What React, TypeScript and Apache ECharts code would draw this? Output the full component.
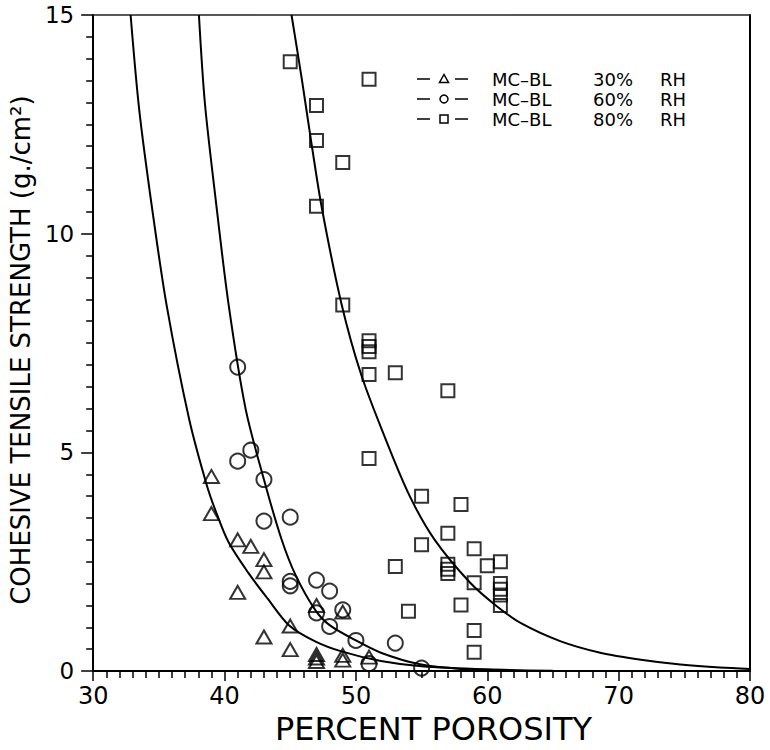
import { useEffect, useRef } from "react";
import * as echarts from "echarts";

// Measured data: [percent porosity, cohesive tensile strength]
const rh30: [number, number][] = [
  [39, 4.45], [39, 3.6], [41, 3.0], [41, 1.8], [42, 2.85], [43, 2.55], [43, 2.27],
  [43, 0.78], [45, 1.03], [45, 0.49], [47, 1.5], [47, 0.38], [47, 0.3], [47, 0.22],
  [49, 1.35], [49, 0.36], [49, 0.25], [51, 0.32],
];
const rh60: [number, number][] = [
  [41, 6.95], [41, 4.8], [42, 5.05], [43, 4.38], [43, 3.43], [45, 3.52], [45, 2.05],
  [45, 1.95], [47, 2.08], [47, 1.33], [48, 1.83], [48, 1.02], [49, 1.4], [50, 0.7],
  [51, 0.17], [53, 0.64], [55, 0.07],
];
const rh80: [number, number][] = [
  [45, 13.93], [51, 13.53], [47, 12.93], [47, 12.13], [49, 11.63], [47, 10.63], [49, 8.37],
  [51, 7.55], [51, 7.42], [51, 7.3], [51, 6.78], [53, 6.82], [57, 6.41], [51, 4.86],
  [55, 4.0], [58, 3.81], [57, 3.15], [55, 2.89], [59, 2.8], [61, 2.5], [60, 2.41],
  [57, 2.44], [57, 2.33], [57, 2.23], [53, 2.39], [59, 2.02], [61, 2.0], [61, 1.87],
  [61, 1.74], [61, 1.5], [58, 1.51], [54, 1.37], [59, 0.93], [59, 0.43],
];

// Fitted curves
const fit30: [number, number][] = [
  [32.85, 15], [33.5, 12.85], [34.5, 10.55], [35.6, 8.35], [37.3, 5.77], [38.65, 4.25],
  [39.4, 3.6], [40.3, 2.95], [41.8, 2.25], [43.3, 1.65], [44.9, 1.05], [46.9, 0.68],
  [48.9, 0.45], [51.9, 0.23], [55, 0.11], [60, 0.04], [65, 0.01], [70, 0.0],
];
const fit60: [number, number][] = [
  [38.05, 15], [38.5, 13.0], [39.3, 10.85], [40.3, 8.4], [41.6, 6.0], [43, 4.38],
  [44.3, 3.05], [45.4, 2.2], [46.9, 1.4], [48, 1.05], [50, 0.7], [51.9, 0.42],
  [54.8, 0.16], [58, 0.05], [62, 0.01], [66, 0.0],
];
const fit80: [number, number][] = [
  [45.1, 15], [45.9, 13.5], [46.6, 12.1], [47.4, 10.6], [48.9, 8.4], [50.4, 6.78],
  [52.2, 5.35], [54.1, 4.0], [56.0, 3.0], [58.7, 2.02], [60.7, 1.49], [62.6, 1.09],
  [65.6, 0.68], [68.6, 0.42], [71.7, 0.26], [74.7, 0.15], [77.7, 0.08], [80, 0.05],
];

const legendRH = ["30%", "60%", "80%"];
const legendSeries = "MC–BL";
const xTitle = "PERCENT POROSITY";
const yTitle = "COHESIVE TENSILE STRENGTH (g./cm²)";

const FONT = "DejaVu Sans";

function buildLegend() {
  const els: any[] = [];
  const stroke = { stroke: "#000", lineWidth: 1.5, fill: "none" };
  legendRH.forEach((rh, i) => {
    const y = 79 + 20 * i;
    els.push({ type: "line", shape: { x1: 417, y1: y, x2: 430, y2: y }, style: { stroke: "#000", lineWidth: 1.5 } });
    els.push({ type: "line", shape: { x1: 455, y1: y, x2: 468, y2: y }, style: { stroke: "#000", lineWidth: 1.5 } });
    if (i === 0) {
      els.push({ type: "polygon", shape: { points: [[444, y - 4.5], [439.5, y + 3.5], [448.5, y + 3.5]] }, style: stroke });
    } else if (i === 1) {
      els.push({ type: "circle", shape: { cx: 444, cy: y, r: 4 }, style: stroke });
    } else {
      els.push({ type: "rect", shape: { x: 440, y: y - 4, width: 8, height: 8 }, style: stroke });
    }
    const ts = { fill: "#000", fontSize: 18, fontFamily: FONT, textVerticalAlign: "middle", verticalAlign: "middle" };
    els.push({ type: "text", x: 492, y, style: { ...ts, text: legendSeries } });
    els.push({ type: "text", x: 593, y, style: { ...ts, text: rh } });
    els.push({ type: "text", x: 660, y, style: { ...ts, text: "RH" } });
  });
  return els;
}

export default function App() {
  const ref = useRef<HTMLDivElement>(null);
  useEffect(() => {
    const chart = echarts.init(ref.current!, null, { renderer: "svg" });
    const markerStyle = { color: "rgba(0,0,0,0)", borderColor: "#000", borderWidth: 2 };
    const lineSeries = (name: string, data: [number, number][]) => ({
      name,
      type: "line",
      data,
      showSymbol: false,
      symbol: "none",
      smooth: 0.3,
      lineStyle: { color: "#000", width: 2 },
      clip: true,
      silent: true,
    });
    chart.setOption({
      animation: false,
      backgroundColor: "#fff",
      grid: { left: 91, right: 20, top: 15, bottom: 77, show: true, borderWidth: 0, backgroundColor: "transparent" },
      xAxis: [
        {
          type: "value",
          min: 30,
          max: 80,
          interval: 10,
          axisLine: { show: true, lineStyle: { color: "#000", width: 2 } },
          axisTick: { show: true, inside: false, length: 10, lineStyle: { color: "#000", width: 1.5 } },
          minorTick: { show: true, splitNumber: 10, length: 7, lineStyle: { color: "#000", width: 1.5 } },
          splitLine: { show: false },
          axisLabel: { color: "#000", fontSize: 24, fontFamily: FONT, margin: 13 },
          name: xTitle,
          nameLocation: "middle",
          nameGap: 40,
          nameTextStyle: { fontSize: 32, fontFamily: FONT, color: "#000", padding: [0, 0, 0, 24] },
        },
        {
          type: "value",
          position: "top",
          min: 30,
          max: 80,
          axisLine: { show: true, onZero: false, lineStyle: { color: "#222", width: 1.5 } },
          axisTick: { show: false },
          axisLabel: { show: false },
          splitLine: { show: false },
        },
      ],
      yAxis: [
        {
          type: "value",
          min: 0,
          max: 15,
          interval: 5,
          axisLine: { show: true, lineStyle: { color: "#000", width: 2 } },
          axisTick: { show: true, inside: false, length: 12, lineStyle: { color: "#000", width: 1.5 } },
          minorTick: { show: true, splitNumber: 10, length: 7, lineStyle: { color: "#000", width: 1.5 } },
          splitLine: { show: false },
          axisLabel: { color: "#000", fontSize: 23, fontFamily: FONT, margin: 19 },
          name: yTitle,
          nameLocation: "middle",
          nameGap: 43,
          nameRotate: 90,
          nameTextStyle: { fontSize: 26, fontFamily: FONT, color: "#000", padding: [0, 14, 0, 0] },
        },
        {
          type: "value",
          position: "right",
          min: 0,
          max: 15,
          axisLine: { show: true, onZero: false, lineStyle: { color: "#000", width: 2 } },
          axisTick: { show: false },
          axisLabel: { show: false },
          splitLine: { show: false },
        },
      ],
      series: [
        lineSeries("fit30", fit30),
        lineSeries("fit60", fit60),
        lineSeries("fit80", fit80),
        { name: "MC-BL 30% RH", type: "scatter", data: rh30, symbol: "triangle", symbolSize: [15, 13], itemStyle: markerStyle },
        { name: "MC-BL 60% RH", type: "scatter", data: rh60, symbol: "circle", symbolSize: 15, itemStyle: markerStyle },
        { name: "MC-BL 80% RH", type: "scatter", data: rh80, symbol: "rect", symbolSize: 13, itemStyle: markerStyle },
      ],
      graphic: buildLegend(),
    });
    return () => chart.dispose();
  }, []);
  return (
    <div
      ref={ref}
      style={{ position: "fixed", left: 0, top: 0, width: 770, height: 750, background: "#fff" }}
    />
  );
}
